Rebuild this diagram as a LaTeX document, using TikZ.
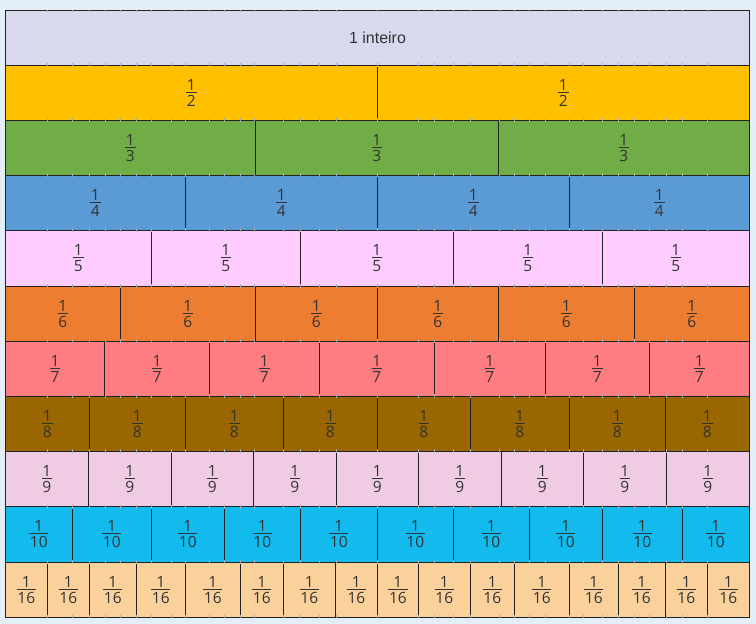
\documentclass[tikz,border=0pt]{standalone}
\usepackage{fontspec}
\setmainfont{Liberation Sans}
\newfontfamily\fracfont{Open Sans}
\definecolor{bgc}{HTML}{E4EEF9}
\definecolor{linec}{HTML}{222222}
\definecolor{txtc}{HTML}{333333}
\definecolor{tickc}{HTML}{A8A8B0}
\definecolor{cA}{HTML}{D9D9EE}
\definecolor{cB}{HTML}{FFC000}
\definecolor{cC}{HTML}{70AD47}
\definecolor{cD}{HTML}{5B9BD5}
\definecolor{cE}{HTML}{FFCCFF}
\definecolor{cF}{HTML}{ED7D31}
\definecolor{cG}{HTML}{FF7C80}
\definecolor{cH}{HTML}{996600}
\definecolor{cI}{HTML}{EFCCE4}
\definecolor{cJ}{HTML}{12BAEE}
\definecolor{cK}{HTML}{FAD19A}
\newcommand\fr[1]{{\fracfont\fontsize{15.5}{16}\selectfont\vbox{\offinterlineskip\halign{\hfil\kern0.8pt##\kern0.8pt\hfil\cr 1\cr\noalign{\kern1.3pt\hrule height0.9pt\kern2.3pt}#1\cr}}}}
\newcommand\fracrow[5]{%
  \foreach \x [remember=\x as \lx (initially 5.3), count=\i] in {#5} {
    \draw[cellbox, fill=#3] (\lx,#1) rectangle (\x,#2);
    \node[lbl] (f#4-\i) at ({(\lx+\x)/2},{(#1+#2)/2}) {\fr{#4}};
  }}
\begin{document}
\begin{tikzpicture}[x=1pt,y=-1pt,
  cellbox/.style={draw=linec, line width=0.8pt},
  lbl/.style={inner sep=0pt, text=txtc},
  tickmark/.style={draw=tickc, line width=0.6pt}]
\useasboundingbox (0,0) rectangle (756,624);
\fill[bgc] (0,0) rectangle (756,624);
% row 1
\draw[cellbox, fill=cA] (5.3,10.3) rectangle (749.3,65.3);
\node[lbl, font=\fontsize{16}{18}\selectfont] (whole) at (377.5,38) {1 inteiro};
\fracrow{65.3}{120.3}{cB}{2}{377.5,749.3}
\fracrow{120.3}{175.3}{cC}{3}{255.3,498.3,749.3}
\fracrow{175.3}{230.3}{cD}{4}{185.3,377.5,569.3,749.3}
\fracrow{230.3}{286.3}{cE}{5}{151.3,300.3,453.3,602.3,749.3}
\fracrow{286.3}{341.3}{cF}{6}{120.3,255.3,377.5,498.3,634.3,749.3}
\fracrow{341.3}{396.3}{cG}{7}{104.7,209.3,319.3,434.3,545.3,649.3,749.3}
\fracrow{396.3}{451.3}{cH}{8}{89.3,185.3,283.3,377.3,470.3,569.3,665.3,749.3}
\fracrow{451.3}{506.5}{cI}{9}{88.3,171.3,253.3,336.3,418.3,501.3,583.3,666.3,749.3}
\fracrow{506.5}{562.3}{cJ}{10}{72.3,151.3,224.3,300.3,377.3,453.3,529.3,602.3,682.3,749.3}
\fracrow{562.3}{617.3}{cK}{16}{47.3,89.3,136.3,185.3,240.3,283.3,335.3,377.5,418.3,470.3,514.3,569.3,618.3,665.3,707.3,749.3}
% faint tick marks on the row borders, kept inside the chart
\begin{scope}
\clip (5.3,10.3) rectangle (749.3,617.3);
\foreach \y in {10.3,65.3,120.3,175.3,230.3,286.3,341.3,396.3,451.3,506.5,562.3,617.3}
  \foreach \x in {47,72,89,105,120,136,151,171,185,209,224,240,254,283,300,319,336,377,418,434,453,470,499,514,529,545,569,583,602,618,634,649,666,682,707}
    \draw[tickmark] (\x,\y-2) -- (\x,\y+2);
\end{scope}
\end{tikzpicture}
\end{document}
